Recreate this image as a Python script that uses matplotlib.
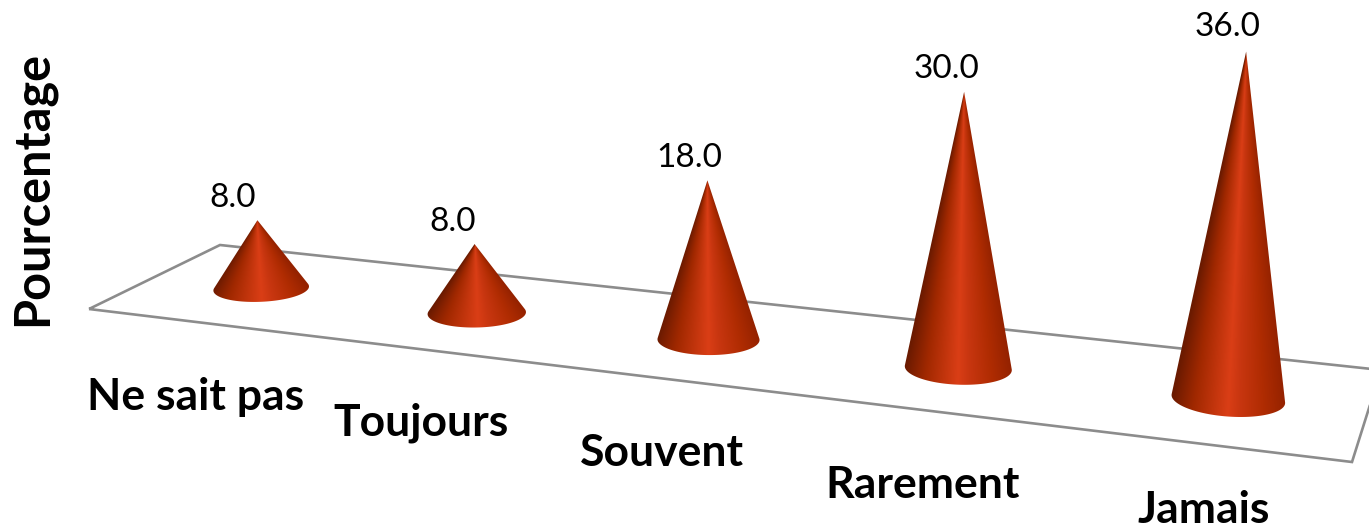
import numpy as np
import matplotlib
matplotlib.use("Agg")
import matplotlib.pyplot as plt
from matplotlib.colors import LinearSegmentedColormap
from matplotlib.patches import Polygon

plt.rcParams['font.family'] = ['Lato', 'DejaVu Sans']

categories = ["Ne sait pas", "Toujours", "Souvent", "Rarement", "Jamais"]
values = [8.0, 8.0, 18.0, 30.0, 36.0]

# ---- layout of the fake 3D floor, in pixels ----
W, H = 1369, 532
floor_corners = np.array([[89, 309], [1352, 462], [1381, 370], [220, 245]], dtype=float)
cone_u = 0.515        # position of a cone inside its category slot
cone_v = 0.49         # depth of the cones on the floor
radius_u = 0.2
radius_v = 0.19
px_per_unit = [8.5, 8.6, 8.83, 9.2, 9.64]   # vertical scale grows towards the viewer
vanish_x = 767        # vertical lines lean towards this x
lean = 1.13e-4
value_dx = [-25, -22, -18, -18, -19]
value_dy = [-22, -22, -22, -23, -25]
label_dx = [-66, -56, -47, -36, -24]
label_dy = [109, 110, 114, 117, 111]

shade = LinearSegmentedColormap.from_list("cone", [
    (0.0, "#6a1a00"), (0.2, "#a02800"), (0.5, "#da3e16"),
    (0.6, "#c83610"), (0.8, "#b02c02"), (1.0, "#942200")])


def fit_homography(src, dst):
    rows, rhs = [], []
    for (u, v), (x, y) in zip(src, dst):
        rows.append([u, v, 1, 0, 0, 0, -u * x, -v * x])
        rows.append([0, 0, 0, u, v, 1, -u * y, -v * y])
        rhs += [x, y]
    p = np.linalg.solve(np.array(rows), np.array(rhs))
    return np.append(p, 1).reshape(3, 3)


floor = fit_homography([(0, 0), (5, 0), (5, 1), (0, 1)], floor_corners)


def project(u, v):
    pts = floor @ np.vstack([u, v, np.ones_like(u)])
    return pts[0] / pts[2], pts[1] / pts[2]


def draw_cone(ax, i, value):
    theta = np.linspace(0, 2 * np.pi, 241)[:-1]
    ex, ey = project(i + cone_u + radius_u * np.cos(theta), cone_v + radius_v * np.sin(theta))
    bx, by = project(np.array([i + cone_u]), np.array([cone_v]))
    bx, by = bx[0], by[0]
    half = (ex.max() - ex.min()) / 2
    h = value * px_per_unit[i]
    ax_, ay_ = bx + lean * h * (bx - vanish_x), by - h

    # silhouette: apex plus the front part of the base between the two tangents
    ang = np.arctan2(ey - ay_, ex - ax_)
    right, left = np.argmin(ang), np.argmax(ang)
    idx = np.arange(left, left + 240) % 240
    idx = idx[:np.where(idx == right)[0][0] + 1]
    outline = np.column_stack([np.r_[ax_, ex[idx]], np.r_[ay_, ey[idx]]])

    # shading radiates from the apex
    x0, x1 = ex.min() - 2, ex.max() + 2
    y0, y1 = ay_ - 2, ey.max() + 2
    gx, gy = np.meshgrid(np.linspace(x0, x1, 300), np.linspace(y0, y1, 500))
    frac = np.clip((gy - ay_) / h, 1e-3, None)
    t = (gx - (ax_ + (bx - ax_) * frac)) / (half * frac)
    t = np.clip((t + 1) / 2, 0, 1)
    im = ax.imshow(t, cmap=shade, vmin=0, vmax=1, extent=(x0, x1, y1, y0),
                   aspect='auto', zorder=3 + i)
    im.set_clip_path(Polygon(outline, closed=True, transform=ax.transData))

    ax.text(ax_ + value_dx[i], ay_ + value_dy[i], f"{value:.1f}", fontsize=24,
            color="black", ha='center', va='center', zorder=10)
    ax.text(bx + label_dx[i], by + label_dy[i], categories[i], fontsize=32, fontweight='bold',
            color="black", ha='center', va='center', zorder=10)


fig = plt.figure(figsize=(W / 100, H / 100), dpi=100)
ax = fig.add_axes([0, 0, 1, 1])
ax.axis('off')

ax.add_patch(Polygon(floor_corners, closed=True, fill=False, edgecolor="#8c8c8c",
                     linewidth=1.9, zorder=1))

for i, value in enumerate(values):
    draw_cone(ax, i, value)

ax.set_xlim(0, W)
ax.set_ylim(H, 0)

ax.text(33, 188, "Pourcentage", rotation=90, fontsize=35, fontweight='bold',
        ha='center', va='center')

fig.savefig("out.png", dpi=100, facecolor="white")
